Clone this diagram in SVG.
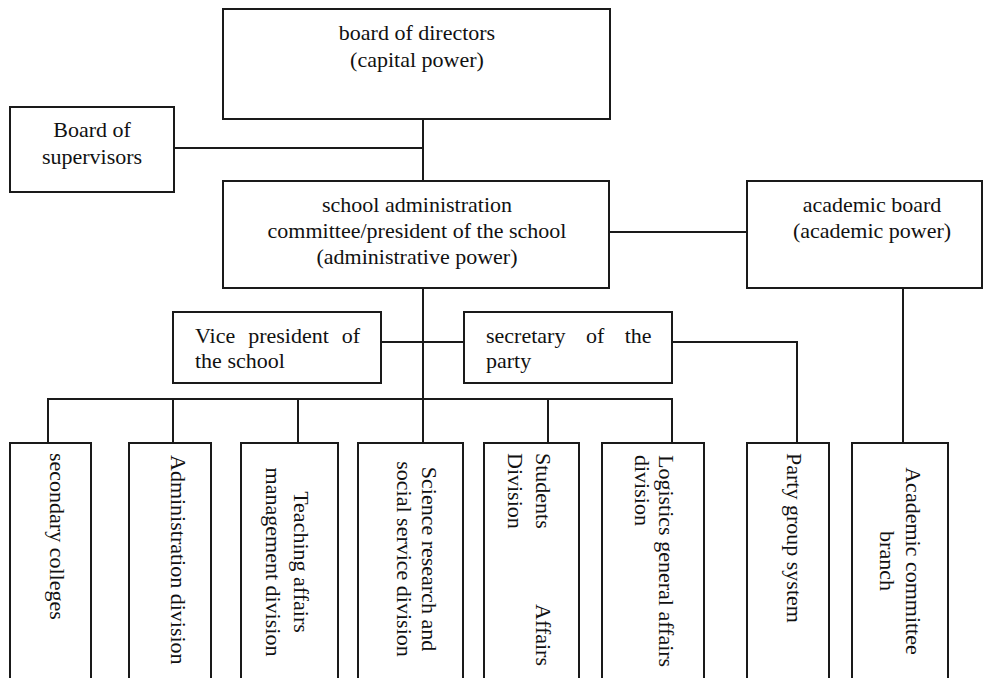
<svg xmlns="http://www.w3.org/2000/svg" width="984" height="678" viewBox="0 0 984 678">
<style>
.box{fill:#fff;stroke:#1a1a1a;stroke-width:2}
.ln{fill:none;stroke:#1a1a1a;stroke-width:2}
.t{font-family:"Liberation Serif","Times New Roman",serif;font-size:22px;fill:#111}
.c{text-anchor:middle}
</style>
<rect x="0" y="0" width="984" height="678" fill="#fff"/>
<g id="connectors">
<polyline class="ln" points="423,119 423,181"/>
<polyline class="ln" points="174,148 423,148"/>
<polyline class="ln" points="609,232 747,232"/>
<polyline class="ln" points="423,288 423,443"/>
<polyline class="ln" points="381,342 464,342"/>
<polyline class="ln" points="48,443 48,399 672,399 672,443"/>
<polyline class="ln" points="173,399 173,443"/>
<polyline class="ln" points="298,399 298,443"/>
<polyline class="ln" points="548,399 548,443"/>
<polyline class="ln" points="672,342 797,342 797,443"/>
<polyline class="ln" points="903,288 903,443"/>
</g>
<g id="directors">
<rect class="box" x="223" y="9" width="387" height="110"/>
<text class="t c" x="417" y="40">board of directors</text>
<text class="t c" x="417" y="67">(capital power)</text>
</g>
<g id="supervisors">
<rect class="box" x="10" y="107" width="164" height="85"/>
<text class="t c" x="92" y="137">Board of</text>
<text class="t c" x="92" y="164">supervisors</text>
</g>
<g id="administration">
<rect class="box" x="223" y="181" width="386" height="107"/>
<text class="t c" x="417" y="212">school administration</text>
<text class="t c" x="417" y="238">committee/president of the school</text>
<text class="t c" x="417" y="264">(administrative power)</text>
</g>
<g id="academic-board">
<rect class="box" x="747" y="181" width="235" height="107"/>
<text class="t c" x="872" y="212">academic board</text>
<text class="t c" x="872" y="238">(academic power)</text>
</g>
<g id="vice-president">
<rect class="box" x="173" y="312" width="208" height="71"/>
<text class="t" x="195" y="343" word-spacing="7.5">Vice president of</text>
<text class="t" x="195" y="368">the school</text>
</g>
<g id="secretary">
<rect class="box" x="464" y="312" width="208" height="71"/>
<text class="t" x="486" y="343" word-spacing="15">secretary of the</text>
<text class="t" x="486" y="368">party</text>
</g>
<g id="secondary-colleges">
<rect class="box" x="10" y="443" width="81" height="260"/>
<text class="t" transform="translate(50 453) rotate(90)">secondary colleges</text>
</g>
<g id="administration-division">
<rect class="box" x="129" y="443" width="82" height="260"/>
<text class="t" transform="translate(170.5 455) rotate(90)">Administration division</text>
</g>
<g id="teaching-affairs">
<rect class="box" x="241" y="443" width="97" height="260"/>
<text class="t c" transform="translate(293.5 562) rotate(90)">Teaching affairs</text>
<text class="t c" transform="translate(266 562) rotate(90)">management division</text>
</g>
<g id="science-research">
<rect class="box" x="358" y="443" width="105" height="260"/>
<text class="t c" transform="translate(421.5 559) rotate(90)">Science research and</text>
<text class="t c" transform="translate(396.5 559) rotate(90)">social service division</text>
</g>
<g id="students-affairs">
<rect class="box" x="484" y="443" width="95" height="260"/>
<text class="t" transform="translate(536 453) rotate(90)" word-spacing="71">Students Affairs</text>
<text class="t" transform="translate(508 453) rotate(90)">Division</text>
</g>
<g id="logistics">
<rect class="box" x="602" y="443" width="102" height="260"/>
<text class="t" transform="translate(659 455) rotate(90)">Logistics general affairs</text>
<text class="t" transform="translate(635 455) rotate(90)">division</text>
</g>
<g id="party-group">
<rect class="box" x="747" y="443" width="82" height="260"/>
<text class="t" transform="translate(787 453) rotate(90)">Party group system</text>
</g>
<g id="academic-committee">
<rect class="box" x="852" y="443" width="96" height="260"/>
<text class="t c" transform="translate(905.5 561) rotate(90)">Academic committee</text>
<text class="t c" transform="translate(880 561) rotate(90)">branch</text>
</g>
</svg>
